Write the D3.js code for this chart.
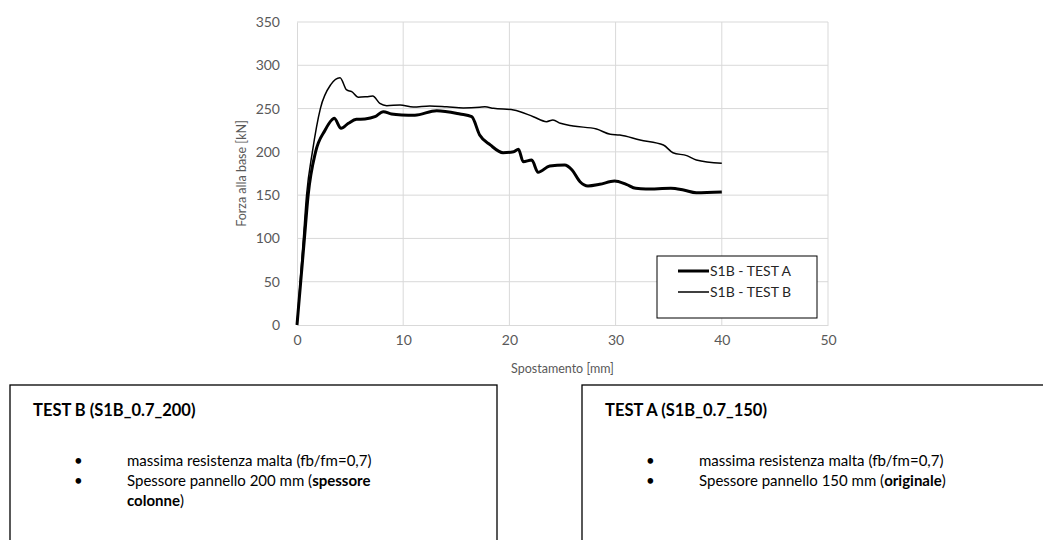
<!DOCTYPE html>
<html lang="it">

<head>
    <meta charset="UTF-8">
    <title>S1B - Test A / Test B</title>
    <script src="https://cdn.jsdelivr.net/npm/d3@7"></script>
    <style>
        body { margin: 0; background: #fff; }
        text { font-family: Lato, "Liberation Sans", Arial, sans-serif; }
    </style>
</head>

<body>
    <svg width="1043" height="540" id="mainsvg"></svg>
    <script>
        // spostamento [mm] / forza [kN]
        const testA_x = [0, 0.35, 0.7, 1.05, 1.75, 2.64, 3.27, 3.5, 4.15, 4.84, 5.6, 6.4, 7.34, 8.13, 8.9, 9.86, 11.1, 13.15, 15.35, 16.45, 17.2, 18.2, 19.4, 20.4, 20.85, 21.3, 22.1, 22.7, 23.8, 25.2, 25.9, 26.65, 27.4, 28.5, 29.9, 31.0, 31.9, 32.85, 35.2, 36.4, 37.6, 40];
        const testA_y = [0, 50, 100, 150, 200, 225, 236.8, 238.7, 227.2, 233, 237.6, 238, 240.6, 246.4, 243.7, 242.6, 242.3, 247.6, 243.7, 240.6, 219.5, 208, 199, 200.2, 203, 188.6, 190.6, 176.4, 183.6, 184.8, 179, 165.5, 160.6, 162.5, 166.3, 162.5, 157.9, 157.1, 157.9, 155.9, 152.8, 153.6];
        const testB_x = [0, 0.3, 0.6, 0.9, 1.45, 2.2, 3.2, 4.05, 4.68, 5.15, 5.78, 6.56, 7.13, 7.8, 8.45, 9.7, 10.95, 12.5, 14.1, 15.66, 17.2, 17.7, 18.5, 20.4, 22.25, 23.5, 24.1, 24.8, 26.0, 28.2, 29.5, 30.4, 32.3, 34.5, 35.4, 36.7, 37.6, 40];
        const testB_y = [0, 50, 100, 150, 200, 250, 278, 285.7, 271.5, 269.5, 263, 263.7, 264.5, 256, 253.4, 254, 251.8, 253, 252, 250.8, 251.5, 252, 250.3, 248.4, 240.6, 234.9, 236.8, 233, 229.9, 226.4, 220.3, 219.5, 213.7, 207.9, 199, 195.6, 190.6, 186.8];

        const xTicks = [0, 10, 20, 30, 40, 50];
        const yTicks = [0, 50, 100, 150, 200, 250, 300, 350];
        const legendLabels = ['S1B - TEST A', 'S1B - TEST B'];

        const boxB_title = 'TEST B (S1B_0.7_200)';
        const boxA_title = 'TEST A (S1B_0.7_150)';

        const svg = d3.select('#mainsvg');
        const margin = { top: 22, left: 297, right: 215, bottom: 215 };
        const innerWidth = 1043 - margin.left - margin.right;
        const innerHeight = 540 - margin.top - margin.bottom;
        const g = svg.append('g')
            .attr('transform', `translate(${margin.left},${margin.top})`);

        const x = d3.scaleLinear().domain([0, 50]).range([0, innerWidth]);
        const y = d3.scaleLinear().domain([0, 350]).range([innerHeight, 0]);

        // griglia
        g.append('g').selectAll('line').data(yTicks.slice(1)).enter()
            .append('line')
            .attr('x1', 0).attr('x2', innerWidth)
            .attr('y1', d => y(d)).attr('y2', d => y(d))
            .attr('stroke', '#d9d9d9').attr('stroke-width', 1);
        g.append('g').selectAll('line').data(xTicks.slice(1)).enter()
            .append('line')
            .attr('x1', d => x(d)).attr('x2', d => x(d))
            .attr('y1', 0).attr('y2', innerHeight)
            .attr('stroke', '#d9d9d9').attr('stroke-width', 1);

        // assi
        const xAxis = d3.axisBottom(x).tickValues(xTicks).tickSize(0).tickPadding(10);
        const yAxis = d3.axisLeft(y).tickValues(yTicks).tickSize(0).tickPadding(17);
        const gx = g.append('g').attr('transform', `translate(0,${innerHeight})`).call(xAxis);
        const gy = g.append('g').call(yAxis);
        gx.select('.domain').attr('stroke', '#d9d9d9');
        gy.select('.domain').attr('stroke', '#d9d9d9');
        [gx, gy].forEach(a => a.selectAll('text')
            .attr('font-size', 14).attr('fill', '#595959')
            .attr('font-family', 'Lato, "Liberation Sans", Arial, sans-serif'));

        svg.append('text')
            .attr('x', margin.left + innerWidth / 2).attr('y', 373)
            .attr('text-anchor', 'middle').attr('font-size', 12.5).attr('fill', '#595959')
            .text('Spostamento [mm]');
        svg.append('text')
            .attr('transform', `translate(246,${margin.top + innerHeight / 2}) rotate(-90)`)
            .attr('text-anchor', 'middle').attr('font-size', 12.5).attr('fill', '#595959')
            .text('Forza alla base [kN]');

        // curve
        const line = d3.line().x(d => x(d[0])).y(d => y(d[1])).curve(d3.curveMonotoneX);
        const seriesA = testA_x.map((v, i) => [v, testA_y[i]]);
        const seriesB = testB_x.map((v, i) => [v, testB_y[i]]);
        g.append('path').datum(seriesB)
            .attr('d', line).attr('fill', 'none').attr('stroke', '#000').attr('stroke-width', 1.5);
        g.append('path').datum(seriesA)
            .attr('d', line).attr('fill', 'none').attr('stroke', '#000').attr('stroke-width', 3);

        // legenda
        const lg = svg.append('g').attr('transform', 'translate(657,256)');
        lg.append('rect').attr('width', 160).attr('height', 62)
            .attr('fill', '#fff').attr('stroke', '#000').attr('stroke-width', 1);
        const items = lg.selectAll('g').data(legendLabels).enter().append('g')
            .attr('transform', (d, i) => `translate(0,${15 + i * 21})`);
        items.append('line').attr('x1', 21).attr('x2', 52)
            .attr('stroke', '#000').attr('stroke-width', (d, i) => i === 0 ? 3 : 1.5);
        items.append('text').attr('x', 53).attr('y', 4.5)
            .attr('font-size', 14).attr('fill', '#262626').text(d => d);

        // riquadri descrittivi
        function box(x0, w, title, lines) {
            const b = svg.append('g').attr('transform', `translate(${x0},385)`);
            b.append('rect').attr('width', w).attr('height', 200)
                .attr('fill', 'none').attr('stroke', '#000').attr('stroke-width', 1.3);
            b.append('text').attr('x', 23).attr('y', 31)
                .attr('font-size', 16.5).attr('font-weight', 'bold').text(title);
            lines.forEach((ln, i) => {
                if (ln.bullet) {
                    b.append('text').attr('x', 64).attr('y', 81 + i * 20)
                        .attr('font-size', 15).text('•');
                }
                const t = b.append('text').attr('x', 117).attr('y', 81 + i * 20).attr('font-size', 15);
                ln.parts.forEach(p => t.append('tspan')
                    .attr('font-weight', p[1] ? 'bold' : 'normal').text(p[0]));
            });
        }
        box(10, 487, boxB_title, [
            { bullet: true, parts: [['massima resistenza malta (fb/fm=0,7)', false]] },
            { bullet: true, parts: [['Spessore pannello 200 mm (', false], ['spessore', true]] },
            { bullet: false, parts: [['colonne', true], [')', false]] }
        ]);
        box(582, 470, boxA_title, [
            { bullet: true, parts: [['massima resistenza malta (fb/fm=0,7)', false]] },
            { bullet: true, parts: [['Spessore pannello 150 mm (', false], ['originale', true], [')', false]] }
        ]);
    </script>
</body>

</html>
